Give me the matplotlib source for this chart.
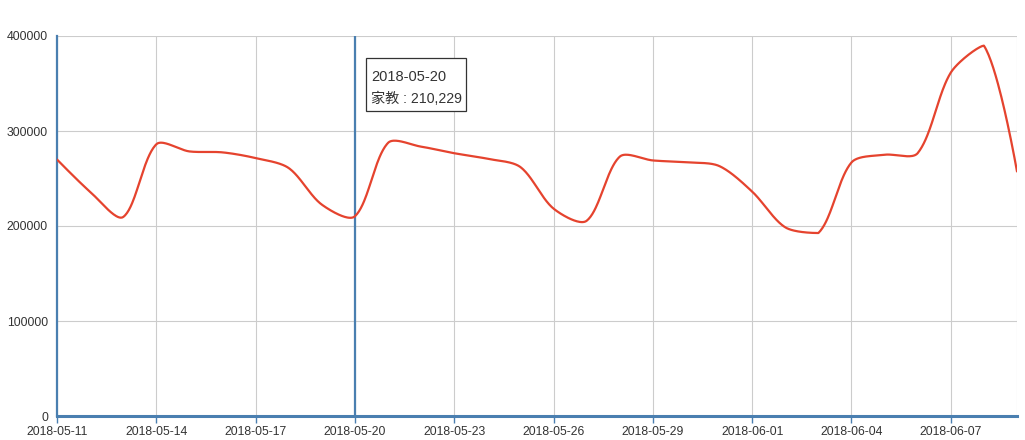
import numpy as np
import pandas as pd
import matplotlib
matplotlib.use("Agg")
import matplotlib.pyplot as plt
import matplotlib.transforms as mtransforms
from matplotlib.patches import Rectangle

# data
dates = pd.date_range("2018-05-11", "2018-06-09", freq="D").strftime("%Y-%m-%d").tolist()
values = [270000, 236000, 209500, 286000, 278500, 277500, 271500, 261000, 222500, 210229,
          287500, 283500, 276600, 270800, 262000, 218300, 205500, 273000, 269000, 267000,
          263200, 236200, 198600, 192600, 266900, 275000, 276700, 361500, 389800, 257400]
series_name = "家教"
tip_index = dates.index("2018-05-20")

# echarts (v4) style smoothing with bounding-box constraint, in pixel-scaled space
def smooth_curve(y, smooth=0.3, xs=33.1, ys=380 / 400000, n=40):
    pts = np.column_stack([np.arange(len(y)) * xs, np.asarray(y, float) * ys])
    lo, hi = pts.min(axis=0), pts.max(axis=0)
    out = [pts[0]]
    cp0 = pts[0].copy()
    t = np.linspace(0, 1, n)[1:, None]
    for i in range(1, len(pts)):
        p, prv = pts[i], pts[i - 1]
        ratio = 0.5
        v = np.zeros(2)
        if i == len(pts) - 1:
            cp1 = p.copy()
        else:
            nxt = pts[i + 1]
            v = nxt - prv
            d0 = np.linalg.norm(p - prv)
            d1 = np.linalg.norm(nxt - p)
            ratio = d1 / (d0 + d1)
            cp1 = p - v * smooth * (1 - ratio)
        cp0 = np.clip(cp0, lo, hi)
        cp1 = np.clip(cp1, lo, hi)
        seg = (1 - t) ** 3 * prv + 3 * (1 - t) ** 2 * t * cp0 + 3 * (1 - t) * t ** 2 * cp1 + t ** 3 * p
        out.extend(seg)
        cp0 = p + v * smooth * ratio
    out = np.array(out)
    return out[:, 0] / xs, out[:, 1] / ys

plt.rcParams["font.family"] = ["Liberation Sans", "DejaVu Sans"]
fig = plt.figure(figsize=(10.25, 4.4), dpi=100)
ax = fig.add_axes([57 / 1025, 24 / 440, 960 / 1025, 380 / 440])

axis_blue = "#4a7fb0"
sx, sy = smooth_curve(values)
ax.plot(sx, sy, color="#e5432e", lw=1.6, zorder=4, solid_capstyle="round")

# axis pointer at the hovered date
ax.axvline(tip_index, color=axis_blue, lw=1.6, zorder=3)

ax.set_xlim(0, len(dates) - 1)
ax.set_ylim(0, 400000)
xt = list(range(0, len(dates), 3))
ax.set_xticks(xt)
ax.set_xticklabels([dates[i] for i in xt])
ax.set_yticks(np.arange(0, 400001, 100000))
ax.set_yticklabels([str(v) for v in range(0, 400001, 100000)])
ax.tick_params(axis="x", length=5, width=1, color=axis_blue, labelsize=8.8, labelcolor="#333333", pad=2)
ax.tick_params(axis="y", length=0, labelsize=8.8, labelcolor="#333333", pad=6.5)

ax.grid(True, color="#cccccc", lw=0.8, zorder=0)
ax.set_axisbelow(True)
for side in ["top", "right"]:
    ax.spines[side].set_visible(False)
ax.axvline(len(dates) - 1, color="#cccccc", lw=0.8, zorder=1)
ax.spines["left"].set_color(axis_blue)
ax.spines["bottom"].set_color(axis_blue)
ax.spines["left"].set_linewidth(1.6)
ax.spines["bottom"].set_linewidth(2.2)

# tooltip, placed in pixels relative to the hovered point at the top of the axis
anchor = ax.transData.transform((tip_index, 400000))
tip_trans = mtransforms.Affine2D().translate(*anchor)
box = Rectangle((11, -75), 100, 53, transform=tip_trans, fc="white", ec="#333333", lw=0.9,
                clip_on=False, zorder=6)
ax.add_patch(box)
tip_font = dict(color="#333333", va="center", ha="left",
                family=["Liberation Sans", "Noto Sans CJK SC"], zorder=7,
                xycoords="data", textcoords="offset pixels", annotation_clip=False)
ax.annotate(dates[tip_index], xy=(tip_index, 400000), xytext=(16.5, -41),
            fontsize=10.5, **tip_font)
ax.annotate(f"{series_name} : {values[tip_index]:,}", xy=(tip_index, 400000),
            xytext=(16.5, -63), fontsize=10.2, **tip_font)

fig.savefig("out.png", dpi=100)
